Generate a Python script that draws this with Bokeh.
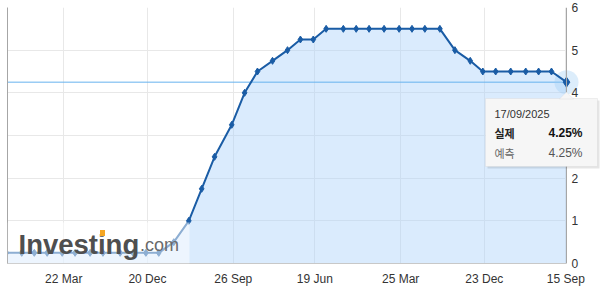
import pandas as pd
from bokeh.plotting import figure
from bokeh.models import (Range1d, FixedTicker, LinearAxis, Span, BoxAnnotation,
                          Label, PolyAnnotation)
from bokeh.embed import file_html
from bokeh.resources import INLINE

# ---------------- data ----------------
meeting_dates = [
    "2020-09-16", "2020-11-05", "2020-12-16",
    "2021-01-27", "2021-03-17", "2021-04-28", "2021-06-16", "2021-07-28",
    "2021-09-22", "2021-11-03", "2021-12-15",
    "2022-01-26", "2022-03-16", "2022-05-04", "2022-06-15", "2022-07-27",
    "2022-09-21", "2022-11-02", "2022-12-14",
    "2023-02-01", "2023-03-22", "2023-05-03", "2023-06-14", "2023-07-26",
    "2023-09-20", "2023-11-01", "2023-12-13",
    "2024-01-31", "2024-03-20", "2024-05-01", "2024-06-12", "2024-07-31",
    "2024-09-18", "2024-11-07", "2024-12-18",
    "2025-01-29", "2025-03-19", "2025-05-07", "2025-06-18", "2025-07-30",
    "2025-09-17",
]
rates = [
    0.25, 0.25, 0.25,
    0.25, 0.25, 0.25, 0.25, 0.25,
    0.25, 0.25, 0.25,
    0.25, 0.50, 1.00, 1.75, 2.50,
    3.25, 4.00, 4.50,
    4.75, 5.00, 5.25, 5.25, 5.50,
    5.50, 5.50, 5.50,
    5.50, 5.50, 5.50, 5.50, 5.50,
    5.00, 4.75, 4.50,
    4.50, 4.50, 4.50, 4.50, 4.50,
    4.25,
]
tick_dates = ["2021-03-22", "2021-12-20", "2022-09-26", "2023-06-19",
              "2024-03-25", "2024-12-23", "2025-09-15"]
tick_labels = ["22 Mar", "20 Dec", "26 Sep", "19 Jun", "25 Mar", "23 Dec", "15 Sep"]
y_ticks = [0, 1, 2, 3, 4, 5, 6]
y_tick_labels = ["0", "1", "2", "", "4", "5", "6"]
tooltip_date = "17/09/2025"
tooltip_rows = [("실제", "4.25%"), ("예측", "4.25%")]

# ---------------- geometry helpers ----------------
W, H = 604, 289
FL, FT, FB = 7, 7, 263          # frame left / top / bottom (px)
PLOT_R = 566                     # px where the last data date sits (value axis line)
X_START = pd.Timestamp("2020-09-19 14:00")
X_LAST = pd.Timestamp(meeting_dates[-1])


def ms(ts):
    return pd.Timestamp(ts).value / 1e6


MS_PER_PX = (ms(X_LAST) - ms(X_START)) / (PLOT_R - FL)
X_END = ms(X_START) + MS_PER_PX * (W - FL)   # frame spans to the right page edge


def px_x(px):
    return ms(X_START) + (px - FL) * MS_PER_PX


def px_y(py):
    return (FB - py) / (FB - FT) * 6


dates = [ms(d) for d in meeting_dates]
zeros = [0] * len(rates)

BLUE = "#1a5ca5"
FONT = "Liberation Sans"

p = figure(width=W, height=H, x_axis_type="datetime", y_axis_location="right",
           x_range=Range1d(ms(X_START), X_END), y_range=Range1d(0, 6),
           output_backend="svg", toolbar_location=None,
           min_border_left=FL, min_border_right=0,
           min_border_top=FT, min_border_bottom=H - FB)
p.outline_line_color = None
p.background_fill_color = "white"
p.border_fill_color = "white"

# x axis
p.xaxis.ticker = FixedTicker(ticks=[ms(d) for d in tick_dates])
p.xaxis.major_label_overrides = {ms(d): lab for d, lab in zip(tick_dates, tick_labels)}
p.xaxis.major_tick_line_color = None
p.xaxis.minor_tick_line_color = None
p.xaxis.major_tick_out = 0
p.xaxis.minor_tick_out = 0
p.xaxis.axis_line_color = "#c8c8c8"
p.xaxis.bounds = (ms(X_START), ms(X_LAST))
p.xaxis.major_label_text_font = FONT
p.xaxis.major_label_text_font_size = "12px"
p.xaxis.major_label_text_color = "#333333"
p.xaxis.major_label_standoff = 8

# value axis: real axis at the frame edge, labels pulled back next to the data end
yax = p.right[0]
yax.ticker = FixedTicker(ticks=y_ticks)
yax.major_label_overrides = {t: lab for t, lab in zip(y_ticks, y_tick_labels)}
yax.major_tick_line_color = None
yax.minor_tick_line_color = None
yax.major_tick_out = 0
yax.minor_tick_out = 0
yax.axis_line_color = None
yax.major_label_text_font = FONT
yax.major_label_text_font_size = "12px"
yax.major_label_text_color = "#333333"
yax.major_label_standoff = 571 - W

# left border line
lax = LinearAxis(ticker=FixedTicker(ticks=[]), axis_line_color="#a6a6a6",
                 major_tick_line_color=None, minor_tick_line_color=None,
                 major_tick_out=0, minor_tick_out=0,
                 major_label_text_font_size="0px", major_label_standoff=0)
p.add_layout(lax, "left")

p.xgrid.grid_line_color = "#e8e8e8"
p.ygrid.grid_line_color = "#e8e8e8"
try:
    p.ygrid.cross_bounds = (ms(X_START), ms(X_LAST))
except Exception:
    pass

# value-axis line at the last data date
p.add_layout(Span(location=ms(X_LAST), dimension="height", line_color="#a6a6a6",
                  line_width=1, level="guide"))

# ---------------- glyphs ----------------
p.varea(x=dates, y1=zeros, y2=rates, fill_color="#a9d0fa", fill_alpha=0.43)
p.segment(x0=[ms(X_START)], y0=[rates[-1]], x1=[dates[-1]], y1=[rates[-1]],
          line_color="#66b2ee", line_width=1)
p.scatter([dates[-1]], [rates[-1]], size=24, fill_color="#9ccaf3", fill_alpha=0.35,
          line_color=None)
p.line(dates, rates, line_color=BLUE, line_width=2)
p.scatter(dates, rates, marker="diamond", size=7, color=BLUE)
p.scatter([dates[-1]], [rates[-1]], marker="diamond", size=10, color=BLUE)

# logo overlay
p.add_layout(BoxAnnotation(left=ms(X_START), right=px_x(189), bottom=0, top=px_y(222),
                           fill_color="white", fill_alpha=0.5, line_color=None))
p.add_layout(Label(x=px_x(18), y=px_y(244), text="Investing", text_font=FONT,
                   text_font_style="bold", text_font_size="27.5px",
                   text_color="#4f4f4f", text_baseline="alphabetic"))
p.add_layout(BoxAnnotation(left=px_x(99.5), right=px_x(104.5), top=px_y(229.5),
                           bottom=px_y(235.5), fill_color="#f5a623", fill_alpha=1,
                           line_color=None))
p.add_layout(Label(x=px_x(139.5), y=px_y(244), text=".com", text_font=FONT,
                   text_font_size="18px", text_color="#6a6a6a",
                   text_baseline="alphabetic"))

# tooltip
p.add_layout(BoxAnnotation(left=px_x(487), right=px_x(599), top=px_y(100),
                           bottom=px_y(168), fill_color="black", fill_alpha=0.10,
                           line_color=None, level="overlay"))
p.add_layout(BoxAnnotation(left=px_x(485), right=px_x(597), top=px_y(98),
                           bottom=px_y(166), fill_color="#f6f6f6", fill_alpha=1,
                           line_color="#d0d0d0", level="overlay"))
p.add_layout(PolyAnnotation(xs=[px_x(559), px_x(566), px_x(573)],
                            ys=[px_y(98.5), px_y(91.5), px_y(98.5)],
                            fill_color="#f6f6f6", fill_alpha=1, line_color="#d0d0d0",
                            level="overlay"))
p.add_layout(Label(x=px_x(494), y=px_y(113.5), text=tooltip_date, text_font=FONT,
                   text_font_size="11px", text_color="#333333",
                   text_baseline="middle", level="overlay"))
row_y = [132.7, 152.7]
for i, (name, val) in enumerate(tooltip_rows):
    bold = "bold" if i == 0 else "normal"
    col = "#222222" if i == 0 else "#666666"
    p.add_layout(Label(x=px_x(494), y=px_y(row_y[i]), text=name,
                       text_font="Noto Sans CJK KR", text_font_style=bold,
                       text_font_size="11px", text_color=col,
                       text_baseline="middle", level="overlay"))
    p.add_layout(Label(x=px_x(582), y=px_y(row_y[i]), text=val, text_font=FONT,
                       text_font_style=bold, text_font_size="12px",
                       text_color="#111111" if i == 0 else "#555555",
                       text_align="right", text_baseline="middle", level="overlay"))

open("out.html", "w").write(file_html(p, INLINE))
